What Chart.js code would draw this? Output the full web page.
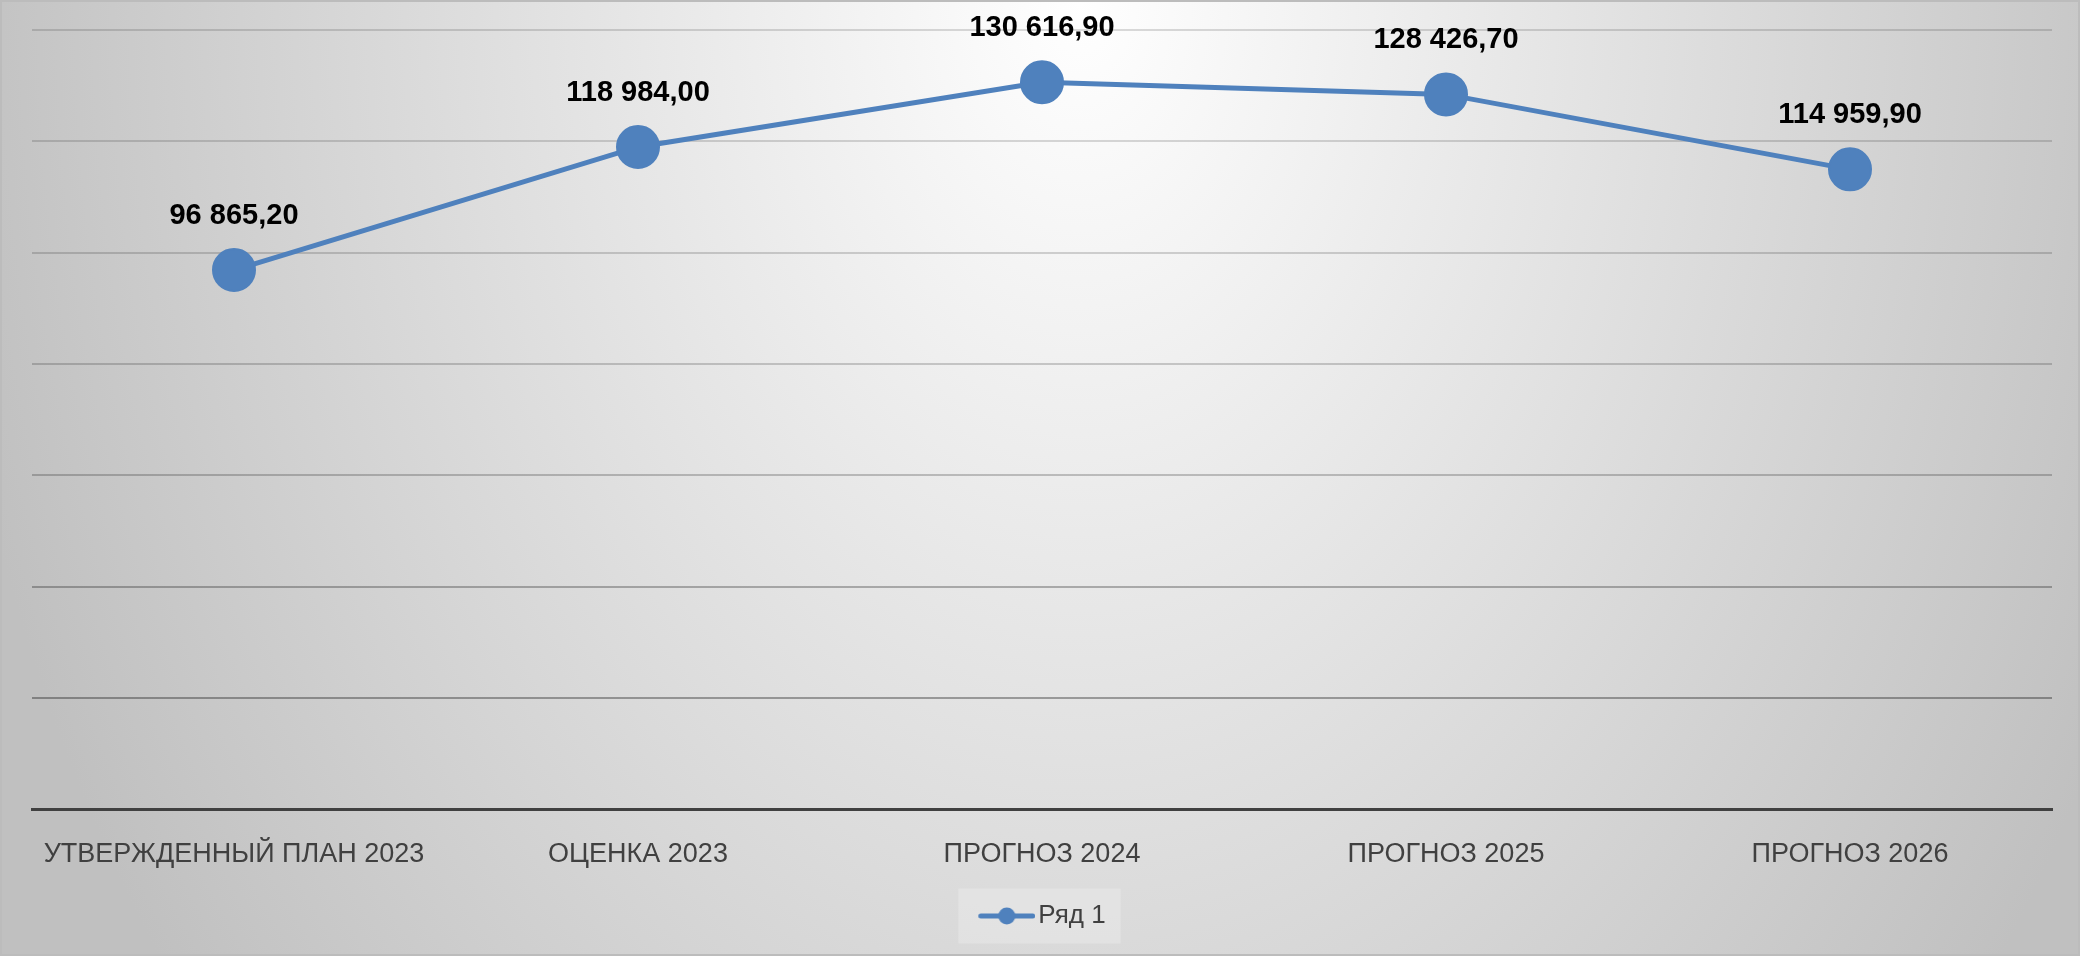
<!DOCTYPE html>
<html lang="ru">
<head>
<meta charset="utf-8">
<title>Прогноз</title>
<script src="https://cdn.jsdelivr.net/npm/chart.js@4.4.1/dist/chart.umd.min.js"></script>
<style>
    html, body {
        margin: 0;
        padding: 0;
        overflow: hidden;
        background: #d0d0d0;
    }
    #chart {
        display: block;
    }
</style>
</head>
<body>
<canvas id="chart" width="2080" height="956"></canvas>
<script>
const categories = ['УТВЕРЖДЕННЫЙ ПЛАН 2023', 'ОЦЕНКА 2023', 'ПРОГНОЗ 2024', 'ПРОГНОЗ 2025', 'ПРОГНОЗ 2026'];
const seriesName = 'Ряд 1';
const seriesValues = [96865.2, 118984.0, 130616.9, 128426.7, 114959.9];
const yTicks = [0, 20000, 40000, 60000, 80000, 100000, 120000, 140000];

const FONT = "'Liberation Sans', Arial, sans-serif";
const BLUE = '#4f81bd';
const TEXT_GRAY = '#404040';

// gridlines get darker towards the bottom, like the original
const gridColors = {
    0: 'rgba(0,0,0,0)',
    20000: 'rgba(0,0,0,0.33)',
    40000: 'rgba(0,0,0,0.27)',
    60000: 'rgba(0,0,0,0.21)',
    80000: 'rgba(0,0,0,0.18)',
    100000: 'rgba(0,0,0,0.16)',
    120000: 'rgba(0,0,0,0.15)',
    140000: 'rgba(0,0,0,0.14)'
};

document.addEventListener('DOMContentLoaded', () => {
    Page.init();
});

const Page = {
    chartInstance: null,

    init() {
        this.legendIcon = this.makeLegendIcon();
        this.render();
    },

    // small line + dot symbol for the legend, left side padded so it sits right
    makeLegendIcon() {
        const c = document.createElement('canvas');
        c.width = 67;
        c.height = 20;
        const g = c.getContext('2d');
        g.strokeStyle = BLUE;
        g.lineWidth = 5;
        g.lineCap = 'round';
        g.beginPath();
        g.moveTo(12.5, 10);
        g.lineTo(64.5, 10);
        g.stroke();
        g.fillStyle = BLUE;
        g.beginPath();
        g.arc(38.5, 10, 8.5, 0, Math.PI * 2);
        g.fill();
        return c;
    },

    formatValue(v) {
        const parts = v.toFixed(2).split('.');
        const intPart = parts[0].replace(/\B(?=(\d{3})+(?!\d))/g, ' ');
        return intPart + ',' + parts[1];
    },

    render() {
        const ctx = document.getElementById('chart').getContext('2d');
        const self = this;

        const backgroundPlugin = {
            id: 'backgroundPlugin',
            beforeDraw(chart) {
                const c = chart.ctx;
                const w = chart.width;
                const h = chart.height;
                c.save();
                // elliptical radial gradient, white near top centre
                c.translate(1080, 0);
                c.scale(1, 1600 / 1150);
                const grad = c.createRadialGradient(0, 0, 0, 0, 0, 1150);
                grad.addColorStop(0, '#ffffff');
                grad.addColorStop(1, '#c0c0c0');
                c.fillStyle = grad;
                c.fillRect(-1080, 0, w, h * 1150 / 1600);
                c.restore();

                c.save();
                c.strokeStyle = '#bcbcbc';
                c.lineWidth = 2;
                c.strokeRect(1, 1, w - 2, h - 2);
                c.restore();

                // legend box
                const legend = chart.legend;
                if (legend && legend.legendHitBoxes && legend.legendHitBoxes.length) {
                    const hb = legend.legendHitBoxes[0];
                    const bw = 47;
                    const iconStart = hb.left + bw / 2 - 33.5 + 10;
                    const left = iconStart - 20;
                    const right = hb.left + hb.width + 15;
                    const cy = hb.top + hb.height / 2;
                    c.save();
                    c.fillStyle = 'rgba(255,255,255,0.22)';
                    c.fillRect(left, cy - 27.5, right - left, 55);
                    c.restore();
                }
            }
        };

        const dataLabelPlugin = {
            id: 'dataLabelPlugin',
            afterDatasetsDraw(chart) {
                const c = chart.ctx;
                const meta = chart.getDatasetMeta(0);
                c.save();
                c.font = 'bold 29px ' + FONT;
                c.fillStyle = '#000000';
                c.textAlign = 'center';
                c.textBaseline = 'middle';
                meta.data.forEach((pt, i) => {
                    c.fillText(self.formatValue(seriesValues[i]), pt.x, pt.y - 54);
                });
                c.restore();
            }
        };

        this.chartInstance = new Chart(ctx, {
            type: 'line',
            data: {
                labels: categories,
                datasets: [{
                    label: seriesName,
                    data: seriesValues,
                    borderColor: BLUE,
                    backgroundColor: BLUE,
                    borderWidth: 5,
                    pointRadius: 21,
                    pointHoverRadius: 21,
                    pointBorderWidth: 2,
                    pointBackgroundColor: BLUE,
                    pointBorderColor: BLUE,
                    pointStyle: 'circle',
                    tension: 0
                }]
            },
            options: {
                responsive: false,
                animation: false,
                events: [],
                layout: {
                    padding: { left: 32, right: 28, top: 30, bottom: 17 }
                },
                plugins: {
                    tooltip: { enabled: false },
                    legend: {
                        position: 'bottom',
                        labels: {
                            color: TEXT_GRAY,
                            padding: 2.5,
                            usePointStyle: true,
                            pointStyleWidth: 47,
                            font: { family: FONT, size: 26 },
                            generateLabels(chart) {
                                const items = Chart.defaults.plugins.legend.labels.generateLabels(chart);
                                items.forEach(item => { item.pointStyle = self.legendIcon; });
                                return items;
                            }
                        }
                    }
                },
                scales: {
                    x: {
                        offset: true,
                        grid: { display: false, drawTicks: false },
                        border: { display: true, color: TEXT_GRAY, width: 3 },
                        ticks: {
                            color: TEXT_GRAY,
                            padding: 29.5,
                            maxRotation: 0,
                            autoSkip: false,
                            font: { family: FONT, size: 27 }
                        }
                    },
                    y: {
                        min: yTicks[0],
                        max: yTicks[yTicks.length - 1],
                        afterBuildTicks(scale) {
                            scale.ticks = yTicks.map(v => ({ value: v }));
                        },
                        border: { display: false },
                        grid: {
                            drawTicks: false,
                            lineWidth: 2,
                            color: (c) => gridColors[c.tick ? c.tick.value : 0] || 'rgba(0,0,0,0.2)'
                        },
                        ticks: { display: false }
                    }
                }
            },
            plugins: [backgroundPlugin, dataLabelPlugin]
        });
    }
};
</script>
</body>
</html>
